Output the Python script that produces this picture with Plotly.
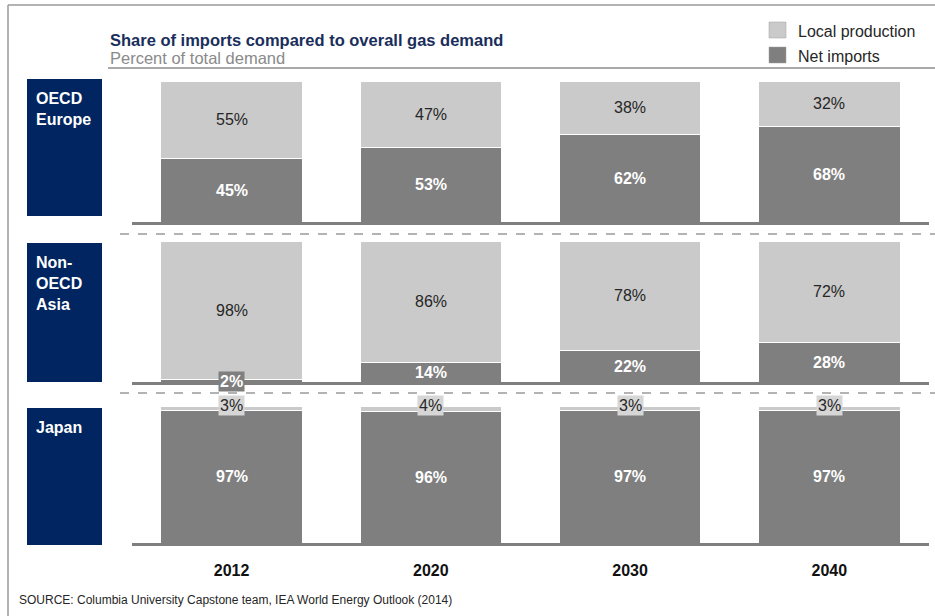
import plotly.graph_objects as go

W, H = 935, 616

years = ["2012", "2020", "2030", "2040"]
regions = ["OECD<br>Europe", "Non-<br>OECD<br>Asia", "Japan"]
net_imports = [
    [45, 53, 62, 68],
    [2, 14, 22, 28],
    [97, 96, 97, 97],
]
local_production = [
    [55, 47, 38, 32],
    [98, 86, 78, 72],
    [3, 4, 3, 3],
]
legend_labels = ["Local production", "Net imports"]
title = "Share of imports compared to overall gas demand"
subtitle = "Percent of total demand"
source = "SOURCE: Columbia University Capstone team, IEA World Energy Outlook (2014)"

DARK = "#7f7f7f"
LIGHT = "#cacaca"
NAVY = "#002561"
FONT = "Liberation Sans, Arial, sans-serif"


def px(x):
    return x / W


def py(y):
    return 1 - y / H


# panel geometry in pixels (top of 100%, baseline)
panels = [(81, 222), (241, 382), (406, 543)]
navy_boxes = [(79, 216), (243, 382), (408, 545)]

fig = go.Figure()
layout = {}
annotations = []
shapes = []

for i in range(3):
    xa = "x" if i == 0 else f"x{i+1}"
    ya = "y" if i == 0 else f"y{i+1}"
    fig.add_trace(go.Bar(
        x=years, y=net_imports[i], xaxis=xa, yaxis=ya,
        marker=dict(color=DARK, line=dict(color="white", width=1)),
        width=0.71, showlegend=False, hoverinfo="skip"))
    fig.add_trace(go.Bar(
        x=years, y=local_production[i], xaxis=xa, yaxis=ya,
        marker=dict(color=LIGHT, line=dict(color="white", width=1)),
        width=0.71, showlegend=False, hoverinfo="skip"))
    top, base = panels[i]
    xkey = "xaxis" if i == 0 else f"xaxis{i+1}"
    ykey = "yaxis" if i == 0 else f"yaxis{i+1}"
    layout[xkey] = dict(
        domain=[px(132), px(929)], anchor=ya, type="category",
        categoryorder="array", categoryarray=years, range=[-0.5, 3.5],
        showline=True, linecolor="#7f7f7f", linewidth=3,
        showticklabels=(i == 2), ticks="", showgrid=False, zeroline=False,
        tickmode="array", tickvals=years,
        ticktext=[f"<b>{y}</b>" for y in years],
        tickfont=dict(family=FONT, size=16, color="#111111"),
        ticklabelstandoff=11 if i == 2 else 0,
    )
    layout[ykey] = dict(
        domain=[py(base), py(top)], anchor=xa, range=[0, 100],
        showticklabels=False, showline=False, ticks="",
        showgrid=False, zeroline=False, fixedrange=True,
    )
    # labels (category axis -> annotation x given as category index)
    for j, yr in enumerate(years):
        ni = net_imports[i][j]
        lp = local_production[i][j]
        if ni >= 8:
            annotations.append(dict(
                x=j, y=ni / 2, xref=xa, yref=ya, text=f"<b>{ni}%</b>",
                showarrow=False, font=dict(family=FONT, size=16, color="white")))
        else:
            annotations.append(dict(
                x=j, y=0, xref=xa, yref=ya, text=f"<b>{ni}%</b>",
                showarrow=False, bgcolor=DARK, borderpad=1,
                font=dict(family=FONT, size=16, color="white")))
        if lp >= 8:
            annotations.append(dict(
                x=j, y=ni + lp / 2, xref=xa, yref=ya, text=f"{lp}%",
                showarrow=False, font=dict(family=FONT, size=16, color="#262626")))
        else:
            annotations.append(dict(
                x=j, y=100, xref=xa, yref=ya, text=f"{lp}%", yshift=1,
                showarrow=False, bgcolor="#d6d6d6", borderpad=1,
                font=dict(family=FONT, size=16, color="#262626")))
    # navy region box
    t, b = navy_boxes[i]
    shapes.append(dict(type="rect", xref="paper", yref="paper",
                       x0=px(27), x1=px(102), y0=py(b), y1=py(t),
                       fillcolor=NAVY, line=dict(width=0), layer="below"))
    annotations.append(dict(
        x=px(34), y=py(t + 9), xref="paper", yref="paper", xanchor="left",
        yanchor="top", align="left", text=f"<b>{regions[i]}</b>",
        showarrow=False, font=dict(family=FONT, size=16, color="white")))

# dashed separators
for yy in (234, 393):
    shapes.append(dict(type="line", xref="paper", yref="paper",
                       x0=px(120), x1=1, y0=py(yy), y1=py(yy),
                       line=dict(color="#9a9a9a", width=1.5, dash="dash")))

# rule under the title
shapes.append(dict(type="line", xref="paper", yref="paper",
                   x0=px(108), x1=1, y0=py(68), y1=py(68),
                   line=dict(color="#8c8c8c", width=1.5)))
# outer frame
shapes.append(dict(type="line", xref="paper", yref="paper",
                   x0=px(8), x1=1, y0=py(5), y1=py(5),
                   line=dict(color="#9a9a9a", width=1.5)))
shapes.append(dict(type="line", xref="paper", yref="paper",
                   x0=px(8), x1=px(8), y0=py(5), y1=py(616),
                   line=dict(color="#9a9a9a", width=1.5)))

# legend
leg_colors = [LIGHT, DARK]
for k, (lab, col) in enumerate(zip(legend_labels, leg_colors)):
    yc = 30 + 25 * k
    shapes.append(dict(type="rect", xref="paper", yref="paper",
                       x0=px(769), x1=px(786), y0=py(yc + 8), y1=py(yc - 8),
                       fillcolor=col, line=dict(color="#a0a0a0", width=0.5)))
    annotations.append(dict(
        x=px(796), y=py(yc + 1), xref="paper", yref="paper", xanchor="left",
        yanchor="middle", text=lab, showarrow=False,
        font=dict(family=FONT, size=16, color="#262626")))

# title / subtitle / source
annotations.append(dict(
    x=px(108), y=py(40), xref="paper", yref="paper", xanchor="left",
    yanchor="middle", text=f"<b>{title}</b>", showarrow=False,
    font=dict(family=FONT, size=16.5, color="#1a2e5c")))
annotations.append(dict(
    x=px(108), y=py(58), xref="paper", yref="paper", xanchor="left",
    yanchor="middle", text=subtitle, showarrow=False,
    font=dict(family=FONT, size=16.5, color="#8a8a8a")))
annotations.append(dict(
    x=px(17), y=py(600), xref="paper", yref="paper", xanchor="left",
    yanchor="middle", text=source, showarrow=False,
    font=dict(family=FONT, size=12, color="#262626")))

fig.update_layout(
    width=W, height=H, margin=dict(l=0, r=0, t=0, b=0),
    paper_bgcolor="white", plot_bgcolor="rgba(0,0,0,0)",
    barmode="stack", bargap=0.29, showlegend=False,
    annotations=annotations, shapes=shapes, **layout)

fig.write_html("out.html")
